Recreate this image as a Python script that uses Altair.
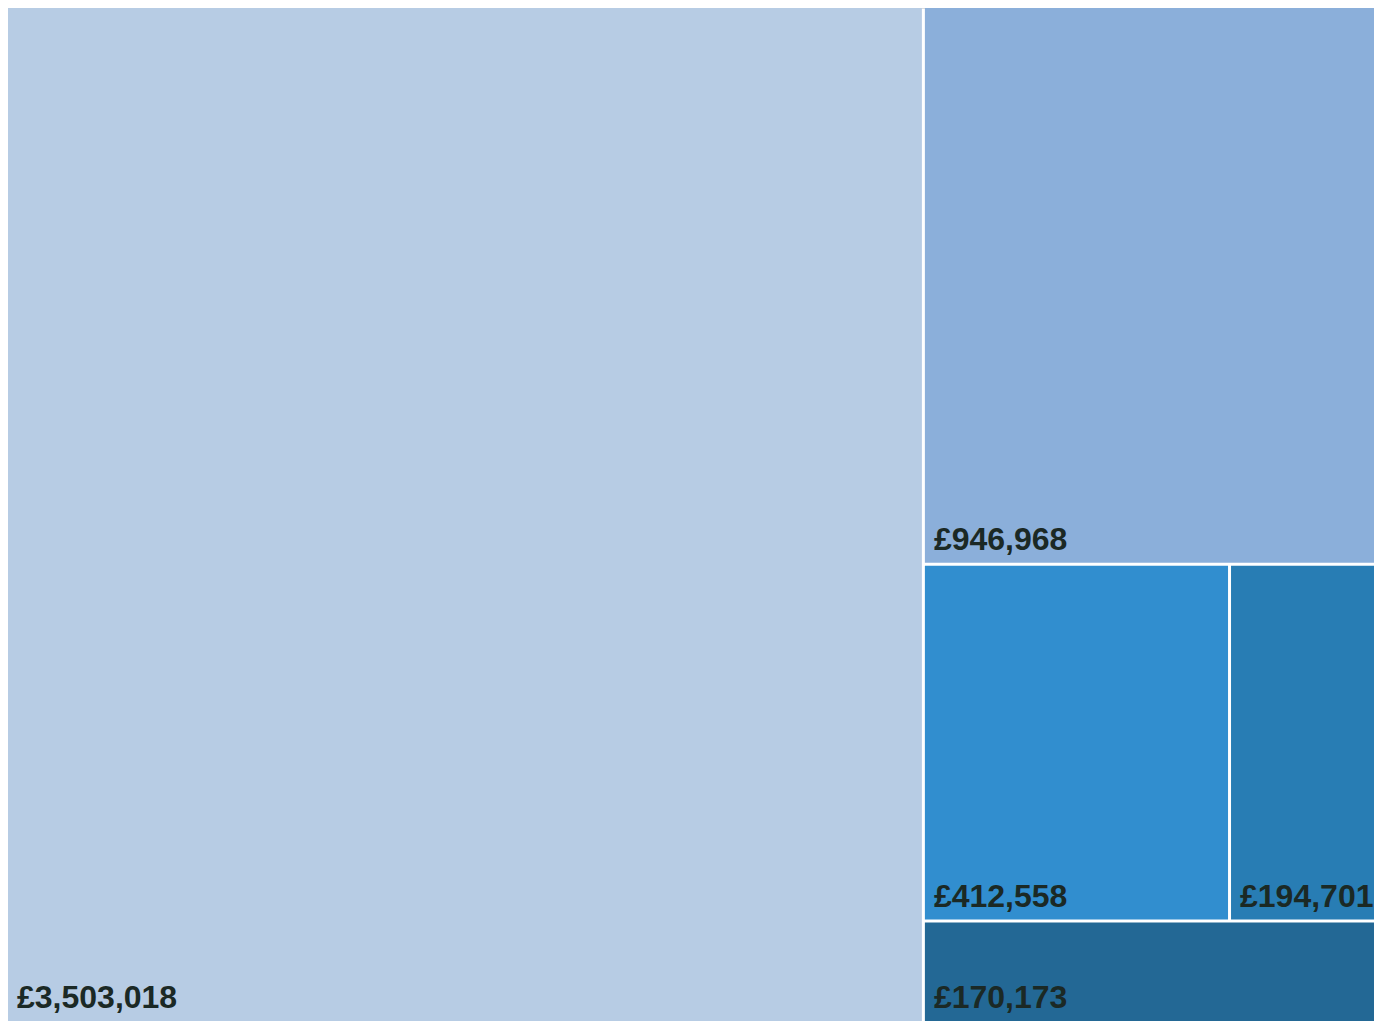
import altair as alt
import pandas as pd
import math

# ---- data ----
values = [3503018, 946968, 412558, 194701, 170173]
labels = ["£3,503,018", "£946,968", "£412,558", "£194,701", "£170,173"]
colors = ["#b7cce4", "#8bafda", "#318ecf", "#287db4", "#236895"]

W, H = 1366, 1013
GAP = 3.0
PHI = (1 + math.sqrt(5)) / 2


def squarify(vals, x0, y0, x1, y1, ratio=PHI):
    """d3.treemapSquarify layout"""
    out = [None] * len(vals)
    n = len(vals)
    i0 = i1 = 0
    value = float(sum(vals))
    while i0 < n:
        dx, dy = x1 - x0, y1 - y0
        sum_v = vals[i1]
        i1 += 1
        min_v = max_v = sum_v
        alpha = max(dy / dx, dx / dy) / (value * ratio)
        beta = sum_v * sum_v * alpha
        min_ratio = max(max_v / beta, beta / min_v)
        while i1 < n:
            nv = vals[i1]
            sum_v += nv
            min_v = min(min_v, nv)
            max_v = max(max_v, nv)
            beta = sum_v * sum_v * alpha
            new_ratio = max(max_v / beta, beta / min_v)
            if new_ratio > min_ratio:
                sum_v -= nv
                break
            min_ratio = new_ratio
            i1 += 1
        dice = dx < dy
        if dice:
            ny = y0 + dy * sum_v / value
            xx = x0
            for i in range(i0, i1):
                w = (x1 - x0) * vals[i] / sum_v
                out[i] = (xx, y0, xx + w, ny)
                xx += w
            y0 = ny
        else:
            nx = x0 + dx * sum_v / value
            yy = y0
            for i in range(i0, i1):
                h = (y1 - y0) * vals[i] / sum_v
                out[i] = (x0, yy, nx, yy + h)
                yy += h
            x0 = nx
        value -= sum_v
        i0 = i1
    return out


rects = squarify(values, 0.0, 0.0, float(W), float(H))
rows = []
for v, lab, col, (a, b, c, d) in zip(values, labels, colors, rects):
    xa = a + (GAP / 2 if a > 0.5 else 0)
    xb = c - (GAP / 2 if c < W - 0.5 else 0)
    ya = b + (GAP / 2 if b > 0.5 else 0)
    yb = d - (GAP / 2 if d < H - 0.5 else 0)
    rows.append({"label": lab, "value": v, "color": col,
                 "x0": xa, "x1": xb, "y0": ya, "y1": yb})
df = pd.DataFrame(rows)

xs = alt.Scale(domain=[0, W], nice=False, zero=False)
ys = alt.Scale(domain=[0, H], nice=False, zero=False, reverse=True)

rect = alt.Chart(df).mark_rect(strokeWidth=0).encode(
    x=alt.X("x0:Q", scale=xs, axis=None),
    x2="x1:Q",
    y=alt.Y("y0:Q", scale=ys, axis=None),
    y2="y1:Q",
    color=alt.Color("color:N", scale=None),
)

text = alt.Chart(df).mark_text(
    align="left", baseline="alphabetic", dx=9, dy=-13,
    font="Liberation Sans", fontWeight="bold", fontSize=32, color="#1b2925",
).encode(
    x=alt.X("x0:Q", scale=xs, axis=None),
    y=alt.Y("y1:Q", scale=ys, axis=None),
    text="label:N",
)

chart = alt.layer(rect, text).properties(
    width=W, height=H,
    autosize=alt.AutoSizeParams(type="none"),
    padding=0,
).configure_view(stroke=None).configure(background="white")

chart.save("out.html", embed_options={"renderer": "svg", "actions": False})
